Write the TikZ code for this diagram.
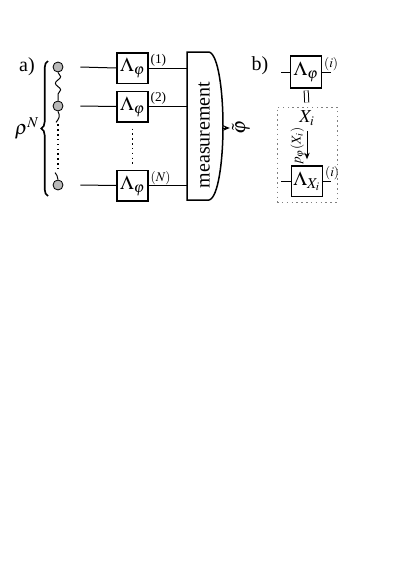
\documentclass[tikz,border=0pt,12pt]{standalone}
\usepackage{mathptmx}
\usepackage[no-math]{fontspec}
\setmainfont{Liberation Serif}
\usetikzlibrary{arrows.meta, positioning, calc, decorations.pathmorphing, decorations.pathreplacing}

\begin{document}
\begin{tikzpicture}[
    x=0.6pt, y=-0.6pt,
    line width=0.6pt,
    qubit/.style={circle, draw=black, line width=0.5pt, fill=gray!55, minimum size=6pt, inner sep=0pt},
    chan/.style={rectangle, draw=black, line width=0.9pt, minimum width=18.6pt, minimum height=18.3pt, inner sep=0pt},
    idx/.style={font=\scriptsize, anchor=north west, inner sep=0.8pt},
    wave/.style={decorate, decoration={snake, amplitude=1.6pt, segment length=8pt}},
    dots/.style={line width=0.9pt, dash pattern=on 0.9pt off 2pt},
    arrow/.style={-{Stealth[length=4pt, width=3.2pt]}}
]
\useasboundingbox (0,0) rectangle (415,587);

% a) labels
\node (lba) at (27,67) {a)};
\node (lbb) at (260,66) {b)};

% Qubits
\node[qubit] (c1) at (58,67) {};
\node[qubit] (c2) at (58,106) {};
\node[qubit] (c3) at (58,185) {};

% Channels
\node[chan] (b1) at (132.5,68) {$\Lambda_{\varphi}$};
\node[chan] (b2) at (132.5,106.5) {$\Lambda_{\varphi}$};
\node[chan] (b3) at (132.5,185.5) {$\Lambda_{\varphi}$};
\node[idx] at (b1.north east) {(1)};
\node[idx] at (b2.north east) {(2)};
\node[idx] at (b3.north east) {$(N)$};

% Entanglement and brace
\draw[wave] (c1.south) -- (c2.north);
\draw (c2.south) to[out=-60,in=80] ++(1,6) to[out=-100,in=60] ++(-3,5);
\draw (c3.north) to[out=100,in=-60] ++(-1,-4) to[out=120,in=-30] ++(-2,-3);
\draw[dots, shorten <=7.8pt, shorten >=6pt] (c2.south) -- (c3.north);
\draw[dots, shorten <=3.6pt, shorten >=2.4pt] (b2.south) -- (b3.north);
\draw[line width=1pt, decorate, decoration={brace, amplitude=4pt}] (48,196) -- (48,61) coordinate[pos=0.5] (tip);
\node[left=1pt of tip] (rho) {$\rho^{N}$};

% Measurement
\coordinate (mleft) at (187,0);
\coordinate (mtip) at (223,128);
\draw[line width=0.9pt] (187,52) -- (209,52) .. controls (218,54) and (223,90) .. (223,126)
    .. controls (223,162) and (218,198) .. (209,200) -- (187,200) -- cycle;
\node[rotate=90] (meas) at (204,135) {measurement};
\node[rotate=90, inner sep=1pt] (phi) at (241,128) {$\tilde{\varphi}$};

% Wires
\draw (c1.east) ++(17,0) -- (b1.west);
\draw (c2.east) ++(17,0) -- (b2.west);
\draw (c3.east) ++(17,0) -- (b3.west);
\draw (b1.east) -- (b1.east -| mleft);
\draw (b2.east) -- (b2.east -| mleft);
\draw (b3.east) -- (b3.east -| mleft);
\draw[arrow] (mtip) -- (phi);

% b) decomposition
\node[chan, minimum height=19pt] (bt) at (306,72) {$\Lambda_{\varphi}$};
\node[idx] at (bt.north east) {$(i)$};
\draw (bt.west) -- ++(-9,0);
\draw (bt.east) -- ++(9,0);
\node[draw=gray, dots, line width=0.6pt, minimum width=36pt, minimum height=57pt] (frame) at (307,154.5) {};
\draw[double, double distance=1.8pt, shorten <=1.2pt, shorten >=2.4pt] (bt.south) -- (frame.north);
\node[inner sep=1pt, font=\small] (xi) at (307,118) {$X_i$};
\node[chan] (bb) at (307,181) {$\Lambda_{X_i}$};
\node[idx] at (bb.north east) {$(i)$};
\draw (bb.west) -- ++(-10,0);
\draw (bb.east) -- ++(8,0);
\draw[arrow, shorten >=3.4pt, shorten <=2pt] (xi.south) -- (bb.north)
    node[midway, anchor=south, rotate=90, inner sep=1pt, font=\scriptsize] {$p_{\varphi}(X_i)$};

\end{tikzpicture}
\end{document}
